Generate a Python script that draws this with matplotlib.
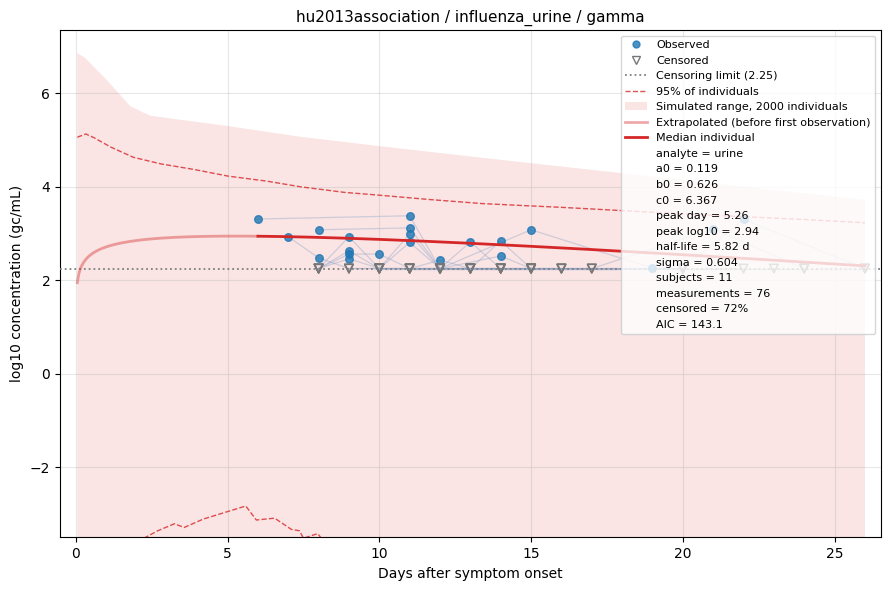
#!/usr/bin/env python3
"""Gamma-shaped viral load fit for hu2013association / influenza_urine."""

import numpy as np
import matplotlib
matplotlib.use("Agg")
import matplotlib.pyplot as plt
from matplotlib.lines import Line2D
from matplotlib.patches import Patch

# ----------------------- data -----------------------------
CENS_LIMIT = 2.25
A0, B0, C0 = 0.119, 0.626, 6.367     # ln v = c0 + b0*ln t - a0*t
FIRST_OBS = 6.0
T_END = 26.0

# subject trajectories: (day, log10 value or None when censored)
SUBJECTS = [
    [(6, 3.31), (11, 3.38), (12, None), (13, None), (14, None), (16, None), (20, None)],
    [(7, 2.93), (8, 2.48), (9, None), (10, None), (11, None), (13, None), (15, None)],
    [(8, 3.08), (11, 3.12), (12, None), (13, None), (14, 2.84), (15, None), (22, None)],
    [(8, None), (9, 2.93), (10, None), (11, None), (12, 2.43), (13, None), (14, None)],
    [(8, None), (9, 2.63), (10, None), (11, 2.99), (12, None), (13, 2.82), (14, None)],
    [(8, None), (9, 2.56), (10, 2.56), (11, None), (12, None), (14, 2.52), (15, None)],
    [(8, None), (9, 2.46), (10, None), (11, 2.81), (12, None), (15, 3.08), (19, 2.26)],
    [(9, None), (11, None), (13, None), (15, None), (17, None), (21, 3.10), (24, None)],
    [(10, None), (12, None), (14, None), (16, None), (20, None), (22, 3.30), (26, None)],
    [(10, None), (12, None), (13, None), (15, None), (16, None), (20, None), (24, None)],
    [(11, None), (14, None), (17, None), (20, None), (23, None), (26, None)],
]

# simulated envelope (upper edge; lower edge is off the axes)
ENV_DAYS  = [0.05, 0.3, 1.0, 1.8, 2.45, 5.0, 7.4, 10.0, 13.4, 18.0, 22.0, 26.0]
ENV_UPPER = [6.86, 6.76, 6.30, 5.72, 5.52, 5.30, 5.07, 4.87, 4.62, 4.29, 4.00, 3.72]
ENV_LOWER = [-9.0] * len(ENV_DAYS)

# 95% of individuals, upper and lower dashed lines
UP95_DAYS = [0.05, 0.33, 0.6, 1.15, 1.9, 2.8, 3.9, 5.0, 6.3, 7.4, 8.85, 10.0,
             11.6, 13.4, 15.0, 16.0, 18.0, 20.0, 22.0, 24.0, 26.0]
UP95_VALS = [5.06, 5.13, 5.05, 4.85, 4.63, 4.49, 4.37, 4.23, 4.12, 4.00, 3.88, 3.82,
             3.73, 3.64, 3.59, 3.56, 3.49, 3.42, 3.36, 3.30, 3.23]
LO95_DAYS = [1.9, 2.3, 2.7, 3.25, 3.57, 4.2, 5.0, 5.6, 5.95, 6.55, 7.1, 7.37, 7.5,
             7.97, 8.3]
LO95_VALS = [-3.75, -3.50, -3.36, -3.21, -3.29, -3.11, -2.95, -2.83, -3.13, -3.09,
             -3.33, -3.36, -3.52, -3.42, -3.70]

STATS = [
    "analyte = urine",
    "a0 = 0.119",
    "b0 = 0.626",
    "c0 = 6.367",
    "peak day = 5.26",
    "peak log10 = 2.94",
    "half-life = 5.82 d",
    "sigma = 0.604",
    "subjects = 11",
    "measurements = 76",
    "censored = 72%",
    "AIC = 143.1",
]
# ----------------------------------------------------------


def median_log10(t):
    return (C0 + B0 * np.log(t) - A0 * t) / np.log(10)


def main() -> None:
    fig, ax = plt.subplots(figsize=(8.89, 5.9), dpi=100)
    red = "#d62728"

    ax.fill_between(ENV_DAYS, ENV_LOWER, ENV_UPPER, color=red, alpha=0.12, lw=0)
    ax.plot(UP95_DAYS, UP95_VALS, "--", color=red, alpha=0.8, lw=1)
    ax.plot(LO95_DAYS, LO95_VALS, "--", color=red, alpha=0.8, lw=1)

    for subj in SUBJECTS:
        xs = [d for d, _ in subj]
        ys = [CENS_LIMIT if v is None else v for _, v in subj]
        ax.plot(xs, ys, color="#7f9cc4", alpha=0.35, lw=0.9, zorder=2)

    obs = [(d, v) for s in SUBJECTS for d, v in s if v is not None]
    cen = [d for s in SUBJECTS for d, v in s if v is None]
    ax.scatter([d for d, _ in obs], [v for _, v in obs], s=30, color="#1f77b4",
               alpha=0.8, zorder=4)
    ax.scatter(cen, [CENS_LIMIT] * len(cen), s=38, marker="v", facecolors="none",
               edgecolors="#777777", lw=1.1, zorder=4)

    ax.axhline(CENS_LIMIT, color="gray", ls=":", lw=1.3, zorder=3)

    t_ex = np.linspace(0.05, FIRST_OBS, 200)
    t_md = np.linspace(FIRST_OBS, T_END, 200)
    ax.plot(t_ex, median_log10(t_ex), color=red, alpha=0.4, lw=2, zorder=5)
    ax.plot(t_md, median_log10(t_md), color=red, lw=2, zorder=5)

    ax.set_xlim(-0.52, 26.52)
    ax.set_ylim(-3.5, 7.355)
    ax.grid(True, alpha=0.3)
    ax.set_xlabel("Days after symptom onset")
    ax.set_ylabel("log10 concentration (gc/mL)")
    ax.set_title("hu2013association / influenza_urine / gamma", fontsize=11)

    handles = [
        Line2D([], [], marker="o", ls="none", color="#1f77b4", alpha=0.8, markersize=5),
        Line2D([], [], marker="v", ls="none", markerfacecolor="none",
               markeredgecolor="#777777", markersize=6),
        Line2D([], [], color="gray", ls=":", lw=1.3),
        Line2D([], [], color=red, ls="--", alpha=0.8, lw=1),
        Patch(facecolor=red, alpha=0.12, lw=0),
        Line2D([], [], color=red, alpha=0.4, lw=2),
        Line2D([], [], color=red, lw=2),
    ]
    labels = [
        "Observed",
        "Censored",
        f"Censoring limit ({CENS_LIMIT})",
        "95% of individuals",
        "Simulated range, 2000 individuals",
        "Extrapolated (before first observation)",
        "Median individual",
    ]
    for s in STATS:
        handles.append(Line2D([], [], ls="none"))
        labels.append(s)
    ax.legend(handles, labels, loc="upper right", fontsize=8)

    fig.subplots_adjust(left=0.0675, right=0.9907, top=0.9492, bottom=0.0893)
    fig.savefig("out.png")


if __name__ == "__main__":
    main()
